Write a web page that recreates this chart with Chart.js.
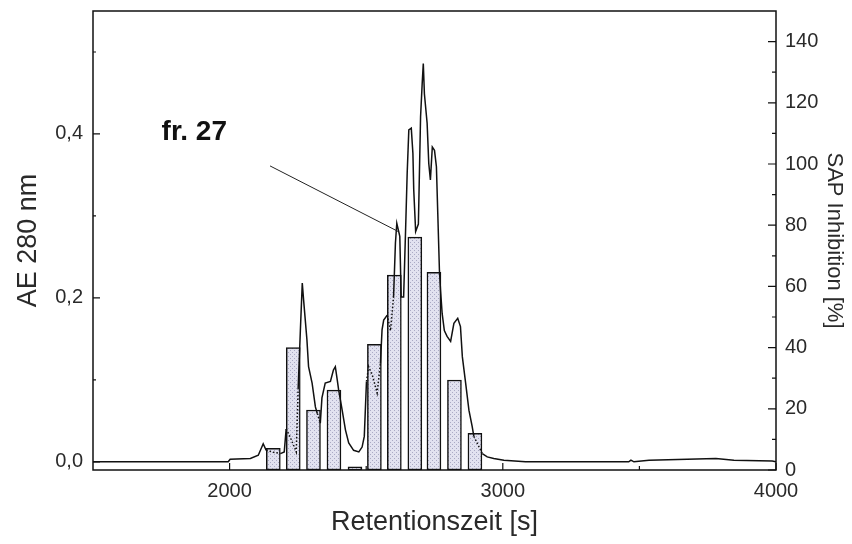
<!DOCTYPE html>
<html>
<head>
<meta charset="utf-8">
<script src="https://cdn.jsdelivr.net/npm/chart.js@4.4.1/dist/chart.umd.min.js"></script>
<style>
html, body { margin: 0; padding: 0; background: #fff; }
#wrap { width: 852px; height: 544px; position: relative; }
</style>
</head>
<body>
<div id="wrap"><canvas id="chart"></canvas></div>
<script>
// chromatogram: retention time [s] and AE 280 nm
const retention = [1500, 1995, 2002, 2076, 2105, 2123, 2134, 2156, 2186, 2200, 2207, 2222, 2244, 2251, 2259, 2266,
  2271, 2283, 2289, 2302, 2314, 2321, 2332, 2338, 2350, 2369, 2380, 2387, 2394, 2399, 2412, 2424, 2436, 2454,
  2473, 2485, 2493, 2501, 2509, 2523, 2540, 2552, 2558, 2564, 2577, 2589, 2600, 2607, 2612, 2623, 2628, 2637,
  2644, 2650, 2656, 2665, 2671, 2674, 2681, 2691, 2699, 2705, 2709, 2713, 2723, 2729, 2735, 2742, 2750, 2757,
  2762, 2768, 2772, 2778, 2786, 2796, 2809, 2821, 2835, 2845, 2852, 2864, 2876, 2888, 2894, 2925, 2943, 2967,
  3004, 3083, 3461, 3469, 3480, 3535, 3780, 3846, 3986, 4000]
const absorbance = [0, 0, 0.003, 0.004, 0.008, 0.022, 0.014, 0.012, 0.010, 0.012, 0.040, 0.030, 0.012, 0.090, 0.160, 0.218,
  0.197, 0.149, 0.116, 0.096, 0.067, 0.059, 0.047, 0.078, 0.096, 0.098, 0.112, 0.116, 0.100, 0.088, 0.063, 0.039, 0.023, 0.014,
  0.012, 0.018, 0.031, 0.098, 0.116, 0.105, 0.084, 0.120, 0.161, 0.173, 0.179, 0.160, 0.200, 0.267, 0.291, 0.275, 0.201, 0.201,
  0.281, 0.352, 0.405, 0.407, 0.376, 0.332, 0.281, 0.290, 0.421, 0.462, 0.486, 0.449, 0.413, 0.364, 0.344, 0.384, 0.380, 0.360,
  0.303, 0.234, 0.210, 0.181, 0.160, 0.153, 0.147, 0.169, 0.175, 0.165, 0.128, 0.096, 0.063, 0.043, 0.031, 0.010, 0.006, 0.004,
  0.002, 0, 0, 0.002, 0, 0.002, 0.004, 0.002, 0.001, 0]

// collected fractions: centre time [s] and SAP inhibition [%]
const fractionTimes = [2160, 2233, 2307, 2382, 2459, 2530, 2603, 2678, 2748, 2823, 2898]
const inhibition = [7.1, 40.0, 19.6, 26.1, 1.0, 41.1, 63.7, 76.1, 64.6, 29.4, 12.0]

const leftTicks = [0, 0.2, 0.4]
const leftMinor = [0.1, 0.3, 0.5]
const rightTicks = [0, 20, 40, 60, 80, 100, 120, 140]
const rightMinor = [10, 30, 50, 70, 90, 110, 130]
const timeTicks = [2000, 3000, 4000]
const timeMinor = [2500, 3500]

// annotation, in data units (time, AE)
const noteText = 'fr. 27'
const noteAt = [1751, 0.393]
const pointerFrom = [2148, 0.361]
const pointerTo = [2617, 0.281]

const fontFamily = '"Liberation Sans", Arial, sans-serif'
const ink = '#2a2a2a'

function hatch() {
    const c = document.createElement('canvas')
    c.width = 4
    c.height = 4
    const g = c.getContext('2d')
    g.fillStyle = '#e2e2f0'
    g.fillRect(0, 0, 4, 4)
    g.fillStyle = '#aaaac4'
    g.fillRect(0, 0, 1, 1)
    g.fillRect(2, 2, 1, 1)
    return g.createPattern(c, 'repeat')
}

// the trace is dotted where it runs inside a fraction bar
function underBar(ctx) {
    const chart = ctx.chart
    const xs = chart.scales.x
    const ys = chart.scales.y2
    const mx = (ctx.p0.x + ctx.p1.x) / 2
    const top = Math.min(ctx.p0.y, ctx.p1.y)
    for (let i = 0; i < fractionTimes.length; i++) {
        const cx = xs.getPixelForValue(fractionTimes[i])
        if (Math.abs(mx - cx) < 7 && top > ys.getPixelForValue(inhibition[i]) + 1) return true
    }
    return false
}

// keep the label overhang from pushing the plot frame around
function noOverhang(s) {
    s.paddingTop = 0
    s.paddingBottom = 0
}

const framePlugin = {
    id: 'frame',
    afterDraw(chart) {
        const { ctx, chartArea: a, scales } = chart
        ctx.save()
        ctx.strokeStyle = '#111'
        ctx.lineWidth = 1.5
        ctx.strokeRect(a.left, a.top, a.right - a.left, a.bottom - a.top)

        ctx.lineWidth = 1.2
        ctx.beginPath()
        leftTicks.forEach(v => { const y = scales.y.getPixelForValue(v); ctx.moveTo(a.left, y); ctx.lineTo(a.left + 7, y) })
        leftMinor.forEach(v => { const y = scales.y.getPixelForValue(v); ctx.moveTo(a.left, y); ctx.lineTo(a.left + 3, y) })
        rightTicks.forEach(v => { const y = scales.y2.getPixelForValue(v); ctx.moveTo(a.right, y); ctx.lineTo(a.right - 8, y) })
        rightMinor.forEach(v => { const y = scales.y2.getPixelForValue(v); ctx.moveTo(a.right, y); ctx.lineTo(a.right - 4, y) })
        timeTicks.forEach(v => { const x = scales.x.getPixelForValue(v); ctx.moveTo(x, a.bottom); ctx.lineTo(x, a.bottom - 7) })
        timeMinor.forEach(v => { const x = scales.x.getPixelForValue(v); ctx.moveTo(x, a.bottom); ctx.lineTo(x, a.bottom - 4) })
        ctx.stroke()

        // pointer line and label
        ctx.lineWidth = 1
        ctx.strokeStyle = '#222'
        ctx.beginPath()
        ctx.moveTo(scales.x.getPixelForValue(pointerFrom[0]), scales.y.getPixelForValue(pointerFrom[1]))
        ctx.lineTo(scales.x.getPixelForValue(pointerTo[0]), scales.y.getPixelForValue(pointerTo[1]))
        ctx.stroke()

        ctx.fillStyle = '#111'
        ctx.font = 'bold 28px ' + fontFamily
        ctx.textBaseline = 'alphabetic'
        ctx.textAlign = 'left'
        ctx.fillText(noteText, scales.x.getPixelForValue(noteAt[0]), scales.y.getPixelForValue(noteAt[1]))
        ctx.restore()
    }
}

const tickFont = { family: fontFamily, size: 20 }

new Chart(document.getElementById('chart').getContext('2d'), {
    type: 'bar',
    data: {
        datasets: [
            {
                type: 'line',
                label: 'AE 280 nm',
                data: retention.map((t, i) => ({ x: t, y: absorbance[i] })),
                yAxisID: 'y',
                borderColor: '#111',
                borderWidth: 1.5,
                pointRadius: 0,
                tension: 0,
                order: 0,
                segment: {
                    borderDash: ctx => underBar(ctx) ? [1.5, 2] : undefined
                }
            },
            {
                type: 'bar',
                label: 'SAP Inhibition',
                data: fractionTimes.map((t, i) => ({ x: t, y: inhibition[i] })),
                yAxisID: 'y2',
                backgroundColor: hatch(),
                borderColor: '#111',
                borderWidth: 1.5,
                borderSkipped: false,
                barThickness: 14,
                order: 1
            }
        ]
    },
    options: {
        responsive: true,
        maintainAspectRatio: false,
        animation: false,
        layout: { padding: { top: 11, left: 0, right: 0, bottom: 0 } },
        plugins: { legend: { display: false }, tooltip: { enabled: false } },
        scales: {
            x: {
                type: 'linear',
                min: 1500,
                max: 4000,
                offset: false,
                grid: { display: false, drawTicks: false },
                border: { display: false },
                afterBuildTicks: s => { s.ticks = timeTicks.map(v => ({ value: v })) },
                afterFit: s => { s.height = 74 },
                ticks: { autoSkip: false, maxRotation: 0, padding: 9, color: ink, font: tickFont, callback: v => String(v) },
                title: { display: true, text: 'Retentionszeit [s]', color: ink, font: { family: fontFamily, size: 27 }, padding: { top: 0, bottom: 5 } }
            },
            y: {
                type: 'linear',
                position: 'left',
                min: -0.01,
                max: 0.55,
                grid: { display: false, drawTicks: false },
                border: { display: false },
                afterBuildTicks: s => { s.ticks = leftTicks.map(v => ({ value: v })) },
                afterFit: s => { s.width = 93; noOverhang(s) },
                ticks: { padding: 10, color: ink, font: tickFont, callback: v => v.toFixed(1).replace('.', ',') },
                title: { display: true, text: 'AE 280 nm', color: ink, font: { family: fontFamily, size: 27 }, padding: { top: 12, bottom: 0 } }
            },
            y2: {
                type: 'linear',
                position: 'right',
                min: 0,
                max: 150,
                grid: { display: false, drawTicks: false },
                border: { display: false },
                afterBuildTicks: s => { s.ticks = rightTicks.map(v => ({ value: v })) },
                afterFit: s => { s.width = 76; noOverhang(s) },
                ticks: { padding: 9, color: ink, font: tickFont, callback: v => String(v) },
                title: { display: true, text: 'SAP Inhibition [%]', color: ink, font: { family: fontFamily, size: 22 }, padding: { top: 5, bottom: 0 } }
            }
        }
    },
    plugins: [framePlugin]
})
</script>
</body>
</html>
